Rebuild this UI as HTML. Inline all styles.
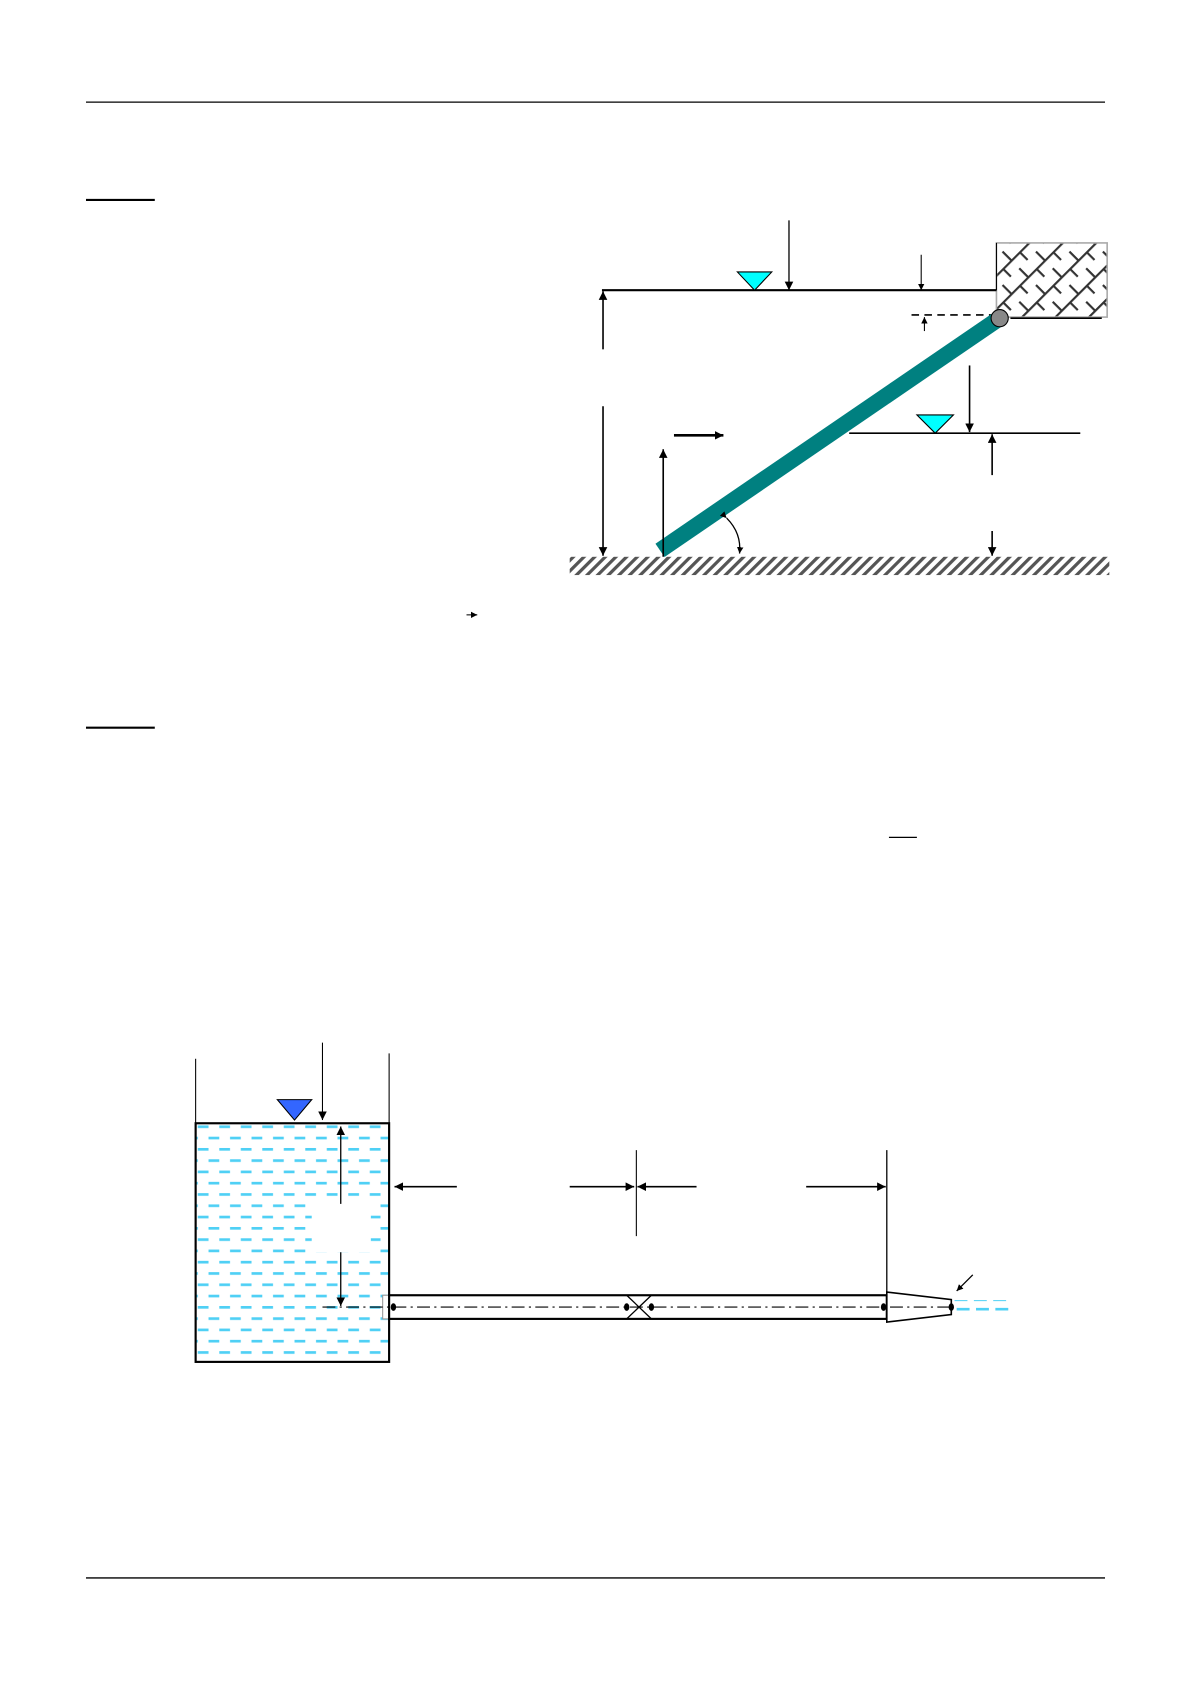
<!DOCTYPE html>
<html><head><meta charset="utf-8"><style>
html,body{margin:0;padding:0;background:#fff;}
svg{display:block;}
</style></head><body>
<svg width="1191" height="1685" viewBox="0 0 1108 1567.6" preserveAspectRatio="none" xmlns="http://www.w3.org/2000/svg">
<defs>
<marker id="ah" viewBox="0 0 10 10" refX="10" refY="5" markerWidth="8" markerHeight="8" markerUnits="userSpaceOnUse" orient="auto">
<path d="M0,0 L10,5 L0,10 z" fill="#000"/></marker>
<marker id="ahs" viewBox="0 0 10 10" refX="10" refY="5" markerWidth="6" markerHeight="6" markerUnits="userSpaceOnUse" orient="auto">
<path d="M0,0 L10,5 L0,10 z" fill="#000"/></marker>
<pattern id="hatch" width="7" height="7" patternUnits="userSpaceOnUse" patternTransform="rotate(45)">
<rect width="7" height="7" fill="#fff"/><rect width="3" height="7" fill="#555"/></pattern>
<pattern id="cross" width="22" height="22" patternUnits="userSpaceOnUse" patternTransform="rotate(45)">
<rect width="22" height="22" fill="#fff"/><rect width="2" height="22" fill="#333"/><rect y="0" width="11" height="2" fill="#333"/><rect x="11" y="11" width="11" height="2" fill="#333"/></pattern>
<pattern id="water" width="20" height="21" patternUnits="userSpaceOnUse" x="182" y="1047">
<rect x="2" y="0" width="10" height="2.5" fill="#4fd0f5"/><rect x="12" y="10.5" width="10" height="2.5" fill="#4fd0f5"/><rect x="-8" y="10.5" width="10" height="2.5" fill="#4fd0f5"/></pattern>
</defs>
<!-- header/footer -->
<line x1="80" y1="95" x2="1028" y2="95" stroke="#000" stroke-width="1.2"/>
<line x1="80" y1="1468" x2="1028" y2="1468" stroke="#000" stroke-width="1.2"/>
<line x1="80" y1="186" x2="144" y2="186" stroke="#000" stroke-width="2"/>
<line x1="80" y1="677" x2="144" y2="677" stroke="#000" stroke-width="2"/>
<line x1="434" y1="572" x2="444" y2="572" stroke="#333" stroke-width="1.2" marker-end="url(#ahs)"/>
<line x1="827" y1="779" x2="853" y2="779" stroke="#000" stroke-width="1.2"/>

<!-- diagram 1 -->
<rect x="530" y="518" width="502" height="17" fill="url(#hatch)"/>
<rect x="927" y="226" width="103" height="69" fill="url(#cross)" stroke="#aaa" stroke-width="1.5"/>
<line x1="927" y1="226" x2="927" y2="270" stroke="#000" stroke-width="1"/>
<line x1="940" y1="296" x2="1025" y2="296" stroke="#000" stroke-width="1.5"/>
<line x1="560" y1="270" x2="927" y2="270" stroke="#000" stroke-width="2"/>
<polygon points="686,253 718,253 702,270" fill="#00ffff" stroke="#000" stroke-width="1"/>
<line x1="734" y1="205" x2="734" y2="270" stroke="#000" stroke-width="1.2" marker-end="url(#ah)"/>
<line x1="857" y1="237" x2="857" y2="270" stroke="#000" stroke-width="1" marker-end="url(#ahs)"/>
<line x1="848" y1="293" x2="925" y2="293" stroke="#000" stroke-width="1.5" stroke-dasharray="7,5"/>
<line x1="860" y1="308" x2="860" y2="295" stroke="#000" stroke-width="1" marker-end="url(#ahs)"/>
<line x1="614" y1="512" x2="930" y2="296" stroke="#008080" stroke-width="15"/>
<circle cx="930" cy="296" r="8" fill="#888" stroke="#000" stroke-width="1"/>
<line x1="561" y1="325" x2="561" y2="271" stroke="#000" stroke-width="1.5" marker-end="url(#ah)"/>
<line x1="561" y1="378" x2="561" y2="517" stroke="#000" stroke-width="1.5" marker-end="url(#ah)"/>
<line x1="627" y1="405" x2="673" y2="405" stroke="#000" stroke-width="2.5" marker-end="url(#ah)"/>
<line x1="617" y1="518" x2="617" y2="418" stroke="#000" stroke-width="1.5" marker-end="url(#ah)"/>
<line x1="790" y1="403" x2="1005" y2="403" stroke="#000" stroke-width="1.5"/>
<polygon points="853,386 887,386 870,403" fill="#00ffff" stroke="#000" stroke-width="1"/>
<line x1="902" y1="340" x2="902" y2="402" stroke="#000" stroke-width="1.5" marker-end="url(#ah)"/>
<line x1="923" y1="442" x2="923" y2="404" stroke="#000" stroke-width="1.5" marker-end="url(#ah)"/>
<line x1="923" y1="494" x2="923" y2="517" stroke="#000" stroke-width="1.5" marker-end="url(#ah)"/>
<path d="M676,482 Q690,496 688,515" fill="none" stroke="#000" stroke-width="1.2" marker-end="url(#ahs)" marker-start="url(#ahs)"/>

<!-- diagram 2 -->
<rect x="182" y="1045" width="180" height="222" fill="url(#water)"/>
<rect x="290" y="1120" width="55" height="45" fill="#fff"/>
<rect x="182" y="1045" width="180" height="222" fill="none" stroke="#000" stroke-width="2"/>
<line x1="182" y1="985" x2="182" y2="1045" stroke="#000" stroke-width="1"/>
<line x1="362" y1="980" x2="362" y2="1045" stroke="#000" stroke-width="1"/>
<polygon points="258,1023 290,1023 274,1042" fill="#3366ff" stroke="#000" stroke-width="1"/>
<line x1="300" y1="970" x2="300" y2="1042" stroke="#000" stroke-width="1" marker-end="url(#ah)"/>
<line x1="317" y1="1120" x2="317" y2="1048" stroke="#000" stroke-width="1.2" marker-end="url(#ah)"/>
<line x1="317" y1="1165" x2="317" y2="1215" stroke="#000" stroke-width="1.2" marker-end="url(#ah)"/>
<rect x="356" y="1205" width="7" height="22" fill="#fff" stroke="#999" stroke-width="1"/>
<rect x="362" y="1205" width="463" height="22" fill="#fff" stroke="#000" stroke-width="2"/>
<polygon points="825,1202 885,1209 885,1223 825,1230" fill="#fff" stroke="#000" stroke-width="1.5"/>
<line x1="300" y1="1216" x2="885" y2="1216" stroke="#000" stroke-width="1" stroke-dasharray="12,4,2,4"/>
<line x1="583" y1="1205" x2="606" y2="1227" stroke="#000" stroke-width="1.2"/>
<line x1="606" y1="1205" x2="583" y2="1227" stroke="#000" stroke-width="1.2"/>
<g fill="#000"><ellipse cx="366" cy="1216" rx="2.5" ry="3.5"/><ellipse cx="583" cy="1216" rx="2.5" ry="3.5"/><ellipse cx="606" cy="1216" rx="2.5" ry="3.5"/><ellipse cx="822" cy="1216" rx="2.5" ry="3.5"/><ellipse cx="885" cy="1216" rx="2.5" ry="3.5"/></g>
<line x1="592" y1="1070" x2="592" y2="1150" stroke="#000" stroke-width="1"/>
<line x1="825" y1="1070" x2="825" y2="1205" stroke="#000" stroke-width="1.2"/>
<line x1="425" y1="1104" x2="367" y2="1104" stroke="#000" stroke-width="1.5" marker-end="url(#ah)"/>
<line x1="530" y1="1104" x2="590" y2="1104" stroke="#000" stroke-width="1.5" marker-end="url(#ah)"/>
<line x1="648" y1="1104" x2="593" y2="1104" stroke="#000" stroke-width="1.5" marker-end="url(#ah)"/>
<line x1="750" y1="1104" x2="824" y2="1104" stroke="#000" stroke-width="1.5" marker-end="url(#ah)"/>
<line x1="905" y1="1186" x2="890" y2="1201" stroke="#000" stroke-width="1.2" marker-end="url(#ahs)"/>
<line x1="888" y1="1210" x2="940" y2="1210" stroke="#4fd0f5" stroke-width="1" stroke-dasharray="12,6"/>
<line x1="890" y1="1218" x2="943" y2="1218" stroke="#4fd0f5" stroke-width="2.5" stroke-dasharray="12,6"/>
</svg>
</body></html>
